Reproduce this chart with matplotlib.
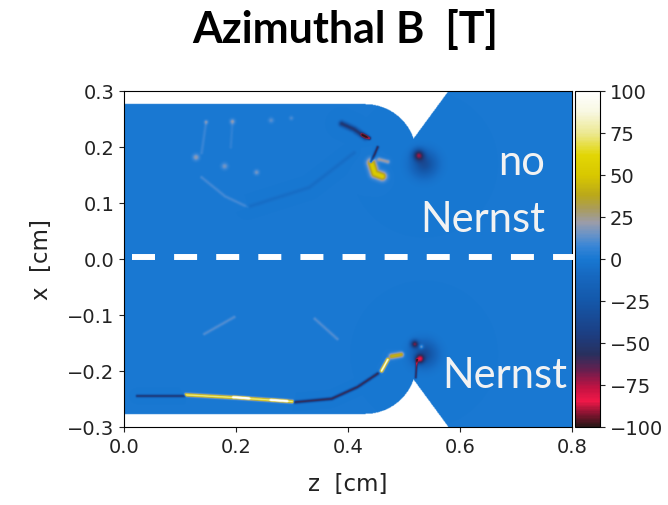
import numpy as np
import matplotlib
matplotlib.use("Agg")
import matplotlib.pyplot as plt
from matplotlib.colors import LinearSegmentedColormap

# colour scale of the field (value in T, colour)
cbar_levels = [-100, -92, -85, -77, -67, -57, -45, -25, -10, 0, 8, 15, 22, 30, 38, 50, 62, 75, 88, 100]
cbar_colors = ['#2a1616', '#8a1432', '#f01848', '#c41242', '#6a1e4e', '#28305e', '#1c3e82',
               '#1458aa', '#1668c0', '#1878d2', '#3a86d6', '#6c94c6', '#9c9ca8', '#aa9c5a',
               '#baa81a', '#d8c800', '#e2d604', '#ece890', '#f8f8e2', '#ffffff']
cbar_ticks = [-100, -75, -50, -25, 0, 25, 50, 75, 100]

# nozzle geometry [cm]
wall_x = 0.277          # channel half width
arc_z0, arc_xc, arc_r = 0.43, 0.186, 0.091
throat_z, throat_x = 0.515, 0.214
exit_z = 0.578          # where the diverging wall reaches x = 0.3

# streaks: (z points, x points, value [T], width [cm])
top_dark = ([0.388, 0.41, 0.43], [0.242, 0.232, 0.218], -50, 0.005)
top_red = ([0.425, 0.437], [0.222, 0.216], -80, 0.003)
top_black = ([0.452, 0.446, 0.44], [0.2, 0.186, 0.174], -60, 0.0025)
top_yellow = ([0.441, 0.447, 0.46], [0.172, 0.153, 0.148], 52, 0.008)
top_pale = ([0.455, 0.47], [0.178, 0.174], 22, 0.004)
top_faint_light = ([0.138, 0.18, 0.22], [0.146, 0.112, 0.093], 9, 0.003)
top_faint_dark = ([0.22, 0.33, 0.41], [0.093, 0.128, 0.19], -6, 0.004)
top_vstreak_a = ([0.146, 0.138], [0.245, 0.19], 7, 0.003)
top_vstreak_b = ([0.193, 0.19], [0.246, 0.2], 5, 0.003)

low_dark_left = ([0.023, 0.107], [-0.245, -0.245], -50, 0.0025)
low_yellow = ([0.11, 0.2, 0.3], [-0.243, -0.248, -0.255], 78, 0.0028)
low_white_a = ([0.195, 0.222], [-0.247, -0.249], 100, 0.002)
low_white_b = ([0.262, 0.29], [-0.252, -0.254], 100, 0.002)
low_dark_right = ([0.305, 0.37, 0.416, 0.452], [-0.256, -0.25, -0.229, -0.205], -60, 0.0028)
low_white_up = ([0.459, 0.47], [-0.2, -0.18], 95, 0.0028)
low_yellow_tip = ([0.477, 0.494], [-0.174, -0.171], 42, 0.005)
low_black_throat = ([0.522, 0.52], [-0.18, -0.212], -60, 0.002)
low_faint_a = ([0.143, 0.196], [-0.134, -0.104], 11, 0.003)
low_faint_b = ([0.34, 0.38], [-0.107, -0.143], 11, 0.003)
streaks = [top_dark, top_red, top_black, top_yellow, top_pale, top_faint_light, top_faint_dark,
           top_vstreak_a, top_vstreak_b, low_dark_left, low_yellow, low_white_a,
           low_white_b, low_dark_right, low_white_up, low_yellow_tip, low_black_throat,
           low_faint_a, low_faint_b]

# spots: centre z, centre x, value [T], radius [cm]
spot_z = [0.128, 0.179, 0.236, 0.146, 0.193, 0.262, 0.298, 0.535, 0.525, 0.535, 0.518, 0.527, 0.53]
spot_x = [0.182, 0.166, 0.155, 0.245, 0.246, 0.248, 0.252, 0.17, 0.186, -0.17, -0.152, -0.179, -0.157]
spot_val = [20, 16, 16, 12, 16, 12, 10, -34, -55, -34, -58, -60, 40]
spot_r = [0.006, 0.006, 0.005, 0.004, 0.005, 0.005, 0.004, 0.022, 0.01, 0.022, 0.007, 0.008, 0.004]

z = np.linspace(0, 0.8, 801)
x = np.linspace(-0.3, 0.3, 601)
Z, X = np.meshgrid(z, x)
B = np.zeros_like(Z)


def seg_dist(z0, x0, z1, x1):
    dz, dx = z1 - z0, x1 - x0
    t = np.clip(((Z - z0) * dz + (X - x0) * dx) / (dz * dz + dx * dx), 0, 1)
    return np.hypot(Z - (z0 + t * dz), X - (x0 + t * dx))


for zs, xs, val, w in streaks:
    wt = np.zeros_like(Z)
    for i in range(len(zs) - 1):
        d = seg_dist(zs[i], xs[i], zs[i + 1], xs[i + 1])
        wt = np.maximum(wt, np.exp(-(d / w) ** 2))
    B += val * wt

for sz, sx, sv, sr in zip(spot_z, spot_x, spot_val, spot_r):
    B += sv * np.exp(-((Z - sz) ** 2 + (X - sx) ** 2) / sr ** 2)

B = np.clip(B, -100, 100)

# fluid region: straight channel, rounded converging wall, diverging cone
left_bound = np.where(Z < arc_z0, wall_x, -1.0)
inarc = (Z >= arc_z0) & (Z <= arc_z0 + arc_r)
left_bound[inarc] = arc_xc + np.sqrt(np.clip(arc_r ** 2 - (Z[inarc] - arc_z0) ** 2, 0, None))
right_bound = throat_x + (Z - throat_z) * (0.3 - throat_x) / (exit_z - throat_z)
bound = np.maximum(left_bound, right_bound)
B = np.ma.masked_where(np.abs(X) > bound, B)

cmap = LinearSegmentedColormap.from_list(
    'bphi', [((v + 100) / 200, c) for v, c in zip(cbar_levels, cbar_colors)])
cmap.set_bad('white')

fig = plt.figure(figsize=(6.68, 5.06), dpi=100)
ax = fig.add_axes([0.1856, 0.1542, 0.6707, 0.664])
cax = fig.add_axes([0.8608, 0.1542, 0.0374, 0.664])

im = ax.imshow(B, origin='lower', extent=[0, 0.8, -0.3, 0.3], cmap=cmap,
               vmin=-100, vmax=100, aspect='auto', interpolation='bilinear')
ax.set_xlim(0, 0.8)
ax.set_ylim(-0.3, 0.3)
ax.set_xticks([0.0, 0.2, 0.4, 0.6, 0.8])
ax.set_yticks([-0.3, -0.2, -0.1, 0.0, 0.1, 0.2, 0.3])
ax.tick_params(labelsize=14, colors='#222222')
ax.set_xlabel('z  [cm]', fontsize=16.5, color='#222222', labelpad=12)
ax.set_ylabel('x  [cm]', fontsize=16.5, color='#222222', labelpad=10)

cb = fig.colorbar(im, cax=cax, ticks=cbar_ticks)
cb.ax.tick_params(labelsize=14, colors='#222222')
cb.outline.set_linewidth(0.8)

# separation between the two runs
ax.plot([0.014, 0.811], [0.004, 0.004], color='white', lw=4.3, ls=(0, (3.85, 3.2)),
        solid_capstyle='butt', dash_capstyle='butt', clip_on=False, zorder=5)

lbl = dict(color='#f2f2f2', fontsize=30, family='Lato', ha='right', va='baseline')
ax.text(0.752, 0.152, 'no', **lbl)
ax.text(0.752, 0.05, 'Nernst', **lbl)
ax.text(0.791, -0.229, 'Nernst', **lbl)

fig.text(0.517, 0.915, 'Azimuthal B  [T]', fontsize=31, family='Lato',
         fontweight='bold', ha='center', va='baseline')

fig.savefig('out.png', dpi=100)
